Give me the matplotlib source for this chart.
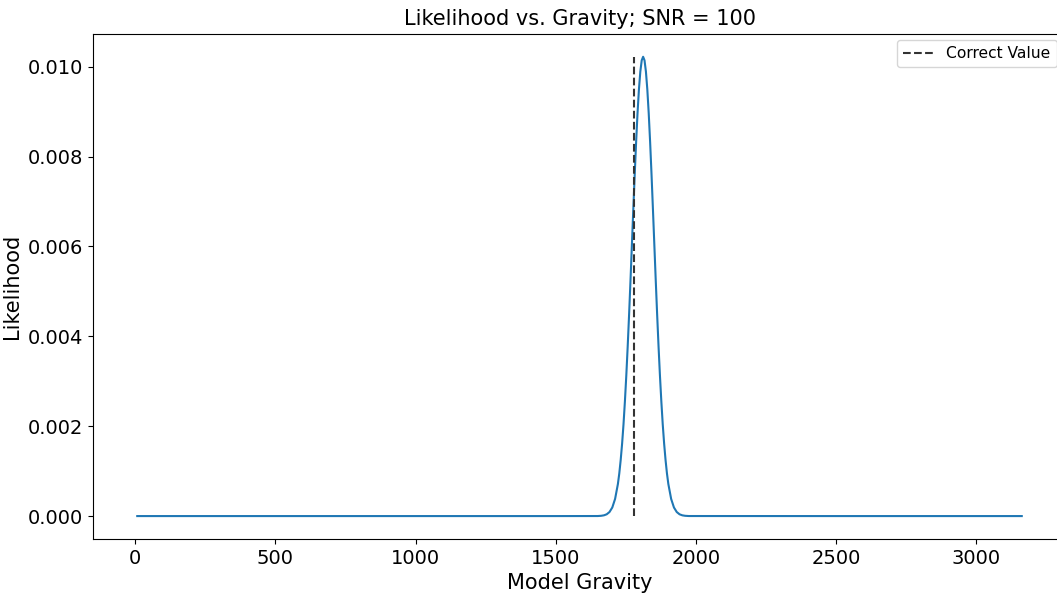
import numpy as np
import matplotlib
matplotlib.use("Agg")
import matplotlib.pyplot as plt

# likelihood curve
gravity = [7, 500, 1000, 1500, 1650, 1662, 1672, 1682, 1692, 1702, 1712,
           1722, 1727, 1732, 1737, 1742, 1747, 1752, 1757, 1762, 1767, 1772,
           1777, 1782, 1787, 1792, 1797, 1802, 1807, 1812, 1817, 1822, 1827,
           1832, 1837, 1842, 1847, 1852, 1857, 1862, 1867, 1872, 1877, 1882,
           1887, 1892, 1897, 1902, 1912, 1922, 1932, 1942, 1952, 1962, 1975,
           2500, 3000, 3163]
likelihood = [0.0, 0.0, 0.0, 0.0, 0.000001, 0.000006, 0.0000163, 0.0000395,
              0.0000899, 0.000191, 0.000382,
              0.000713, 0.000951, 0.00125, 0.00161, 0.00204, 0.00255, 0.00313,
              0.00378, 0.00449, 0.00525, 0.00604, 0.00683, 0.00760, 0.00832,
              0.00896, 0.00949, 0.00989, 0.01014, 0.01022, 0.01014, 0.00989,
              0.00949, 0.00896, 0.00832, 0.00760, 0.00683, 0.00604, 0.00525,
              0.00449, 0.00378, 0.00313, 0.00255, 0.00204, 0.00161, 0.00125,
              0.000951, 0.000713, 0.000382, 0.000191, 0.0000899, 0.0000395,
              0.0000163, 0.000006, 0.000001, 0.0, 0.0, 0.0]
correct_value = 1780
peak = 0.01022

fig = plt.figure(figsize=(10.57, 5.93), dpi=100)
ax = fig.add_axes([0.088, 0.091, 0.9205, 0.852])

ax.plot(gravity, likelihood, color="#1f77b4", lw=1.5)
ax.vlines(correct_value, 0, peak, colors="#333333", linestyles="--", lw=1.5,
          label="Correct Value")

ax.set_title("Likelihood vs. Gravity; SNR = 100", fontsize=15)
ax.set_xlabel("Model Gravity", fontsize=15)
ax.set_ylabel("Likelihood", fontsize=15)
ax.tick_params(labelsize=14)
ax.set_xticks([0, 500, 1000, 1500, 2000, 2500, 3000])
ax.set_yticks([0.0, 0.002, 0.004, 0.006, 0.008, 0.010])
ax.yaxis.set_major_formatter(matplotlib.ticker.FormatStrFormatter("%.3f"))

ax.legend(loc="upper left", bbox_to_anchor=(0.826, 0.988), borderaxespad=0,
          fontsize=11.2)

fig.savefig("out.png", dpi=100)
